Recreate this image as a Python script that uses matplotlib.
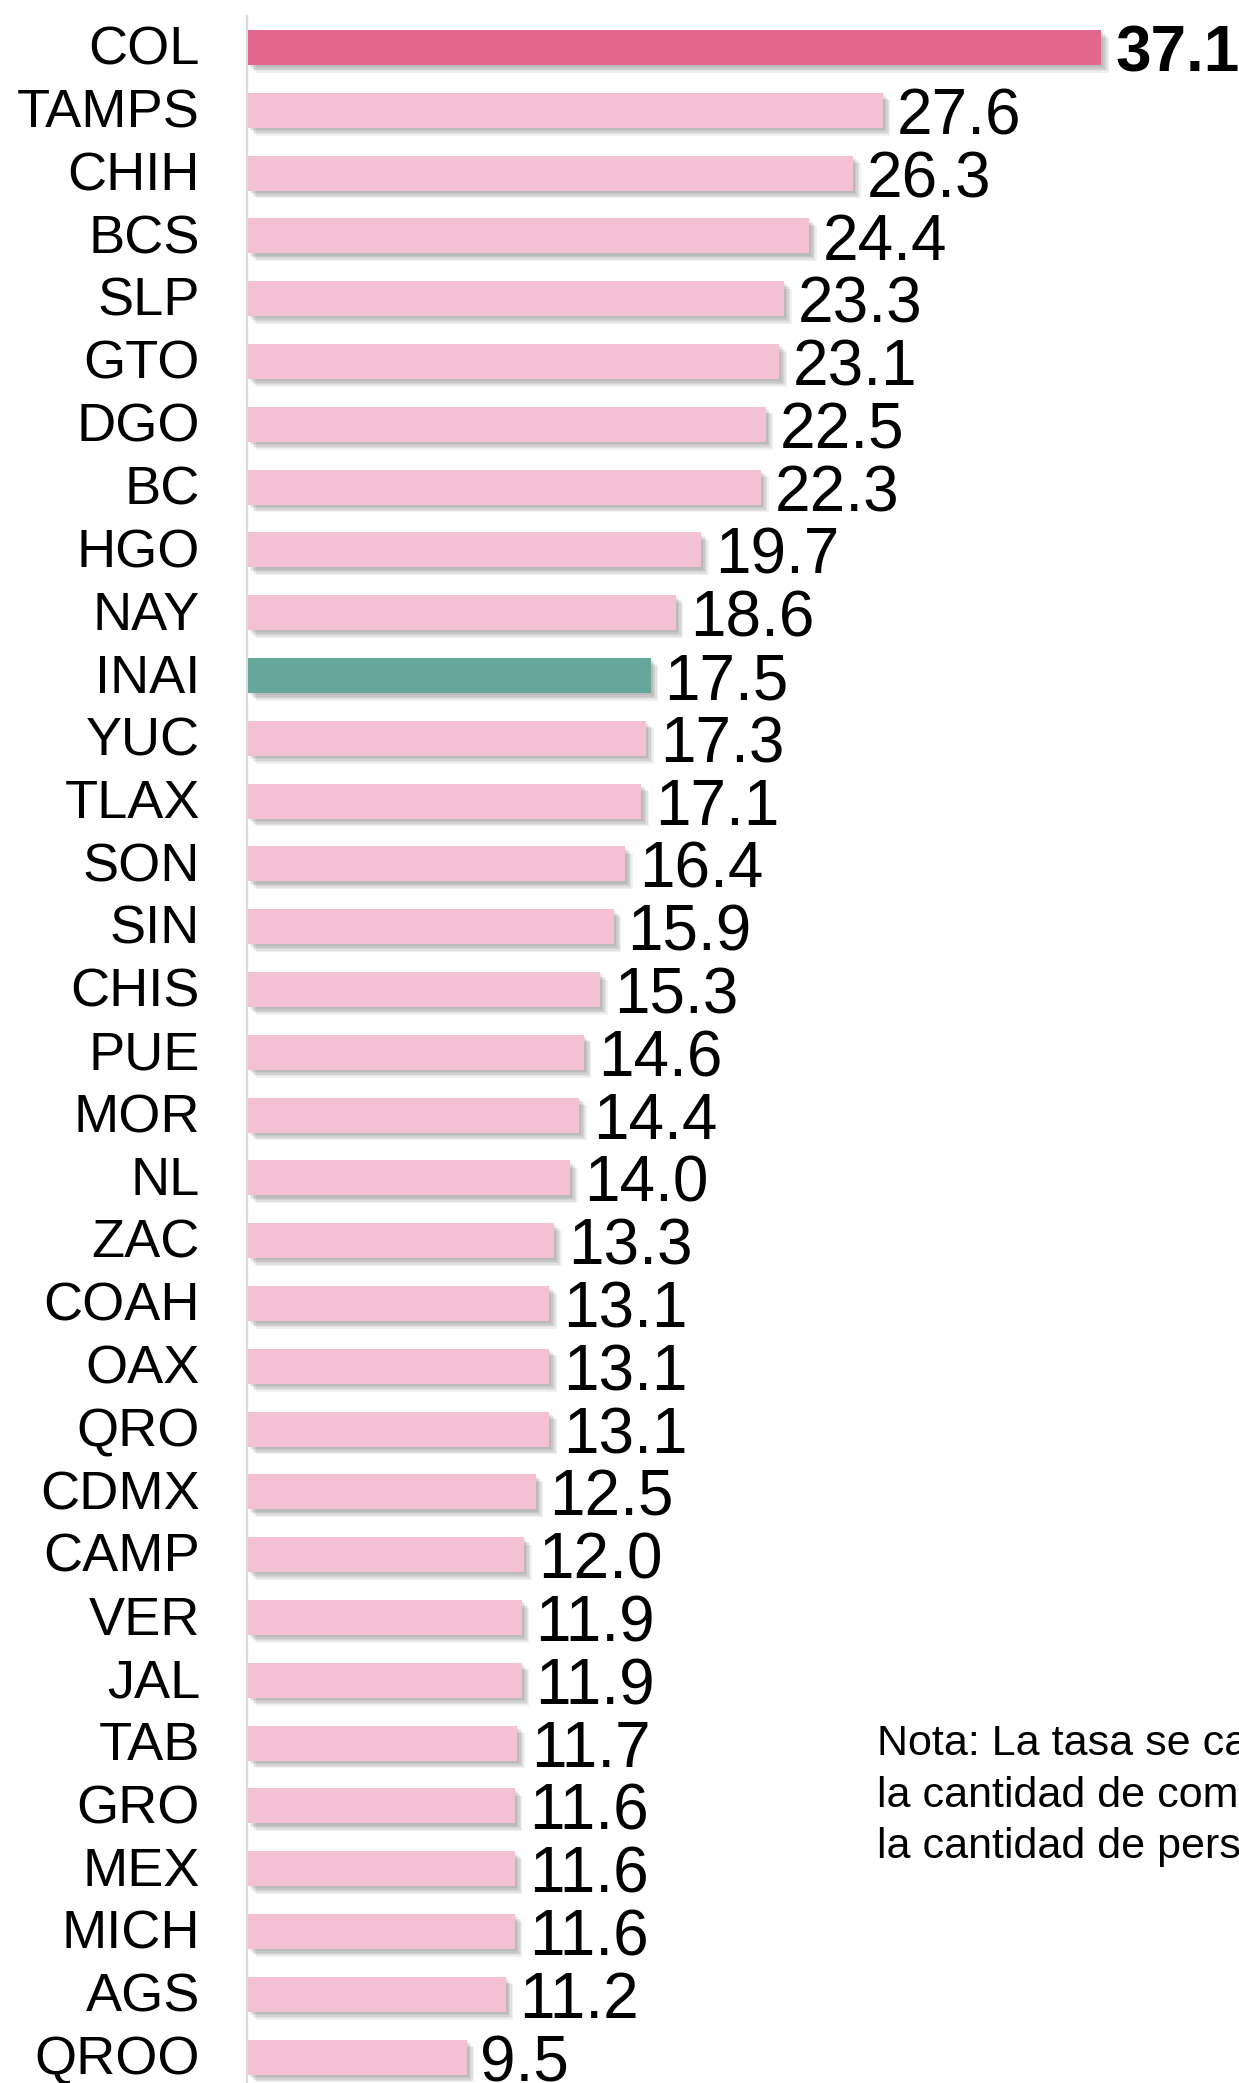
import matplotlib
matplotlib.use("Agg")
import matplotlib.pyplot as plt
import matplotlib.patheffects as pe

plt.rcParams['font.family'] = ['Liberation Sans', 'DejaVu Sans']

categories = ["COL", "TAMPS", "CHIH", "BCS", "SLP", "GTO", "DGO", "BC", "HGO", "NAY",
              "INAI", "YUC", "TLAX", "SON", "SIN", "CHIS", "PUE", "MOR", "NL", "ZAC",
              "COAH", "OAX", "QRO", "CDMX", "CAMP", "VER", "JAL", "TAB", "GRO", "MEX",
              "MICH", "AGS", "QROO"]
values = [37.1, 27.6, 26.3, 24.4, 23.3, 23.1, 22.5, 22.3, 19.7, 18.6,
          17.5, 17.3, 17.1, 16.4, 15.9, 15.3, 14.6, 14.4, 14.0, 13.3,
          13.1, 13.1, 13.1, 12.5, 12.0, 11.9, 11.9, 11.7, 11.6, 11.6,
          11.6, 11.2, 9.5]
note_lines = ["Nota: La tasa se calcula dividiendo",
              "la cantidad de comisionados entre",
              "la cantidad de personas"]

W, H = 1239, 2083
fig = plt.figure(figsize=(W / 100, H / 100), dpi=100)
left_px = 248
ax = fig.add_axes([left_px / W, 0, 1 - left_px / W, 1])

px_per_unit = 23.0
ax.set_xlim(0, (W - left_px) / px_per_unit)
row = 62.8
first = 47.5
ax.set_ylim((H - first) / row, -first / row)

colors = []
for c in categories:
    if c == "COL":
        colors.append("#E3688F")
    elif c == "INAI":
        colors.append("#66A79C")
    else:
        colors.append("#F3C1D3")

ys = list(range(len(categories)))
shadow = [pe.SimplePatchShadow(offset=(o, -o), shadow_rgbFace="black", alpha=0.06)
          for o in (1.5, 2.5, 3.5, 4.5, 5.5)] + [pe.Normal()]
bars = ax.barh(ys, values, height=0.56, color=colors, zorder=3)
for b in bars:
    b.set_path_effects(shadow)

for y, v, c in zip(ys, values, categories):
    bold = (c == "COL")
    ax.annotate(f"{v:.1f}", xy=(v, y), xytext=(10, -5), textcoords="offset points",
                ha="left", va="center", fontsize=46,
                fontweight="bold" if bold else "normal", color="black",
                annotation_clip=False, zorder=4)
    ax.text(-48 / px_per_unit, y + 0.05, c, ha="right", va="center", fontsize=39,
            color="black", clip_on=False)

# vertical axis line
ax.plot([-1.5 / px_per_unit, -1.5 / px_per_unit], [-(first - 16) / row, (H - first) / row],
        color="#D9D9D9", linewidth=1.6, zorder=2, clip_on=False)

for s in ax.spines.values():
    s.set_visible(False)
ax.set_xticks([])
ax.set_yticks([])

for i, (line, base) in enumerate(zip(note_lines, [1755, 1807, 1858])):
    fig.text(877 / W, 1 - base / H, line, ha="left", va="baseline",
             fontsize=31, color="black")

fig.savefig("out.png", dpi=100)
